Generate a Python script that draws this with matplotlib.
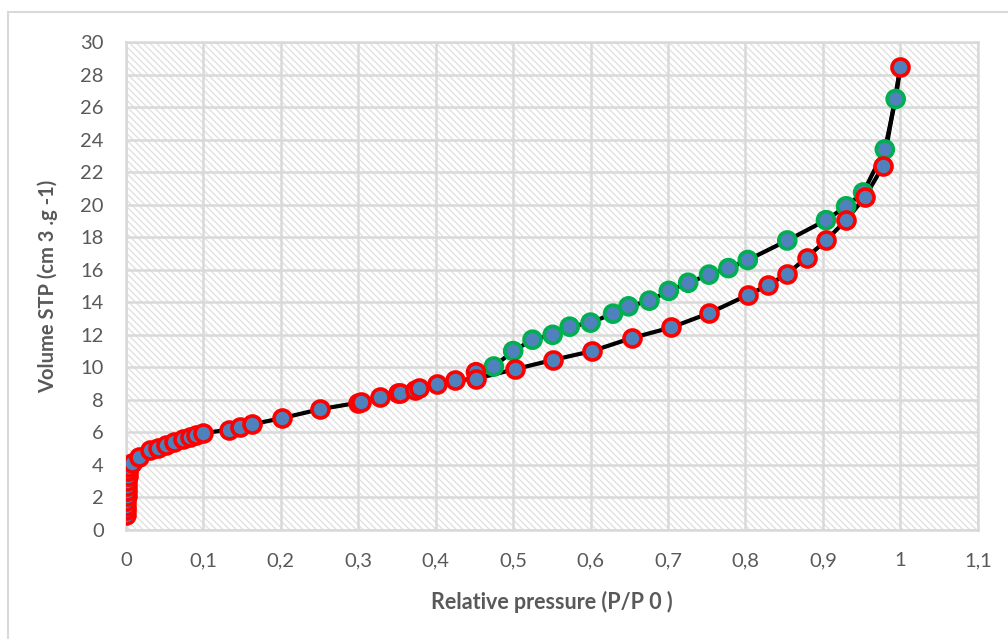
import matplotlib.pyplot as plt
import matplotlib as mpl
from matplotlib.patches import Rectangle

# adsorption branch (red edged markers)
ads_p = [0.0002, 0.0003, 0.0004, 0.0006, 0.0008, 0.001, 0.0013, 0.0017, 0.0022, 0.003, 0.004,
         0.008, 0.017, 0.031, 0.041, 0.052, 0.062, 0.073, 0.083, 0.091, 0.100,
         0.133, 0.147, 0.163, 0.201, 0.250, 0.299, 0.303, 0.328, 0.351, 0.354,
         0.373, 0.379, 0.402, 0.425, 0.452, 0.502, 0.551, 0.602, 0.653, 0.704,
         0.753, 0.803, 0.829, 0.854, 0.879, 0.904, 0.930, 0.954, 0.978, 1.0]
ads_v = [0.9, 1.2, 1.5, 1.8, 2.1, 2.4, 2.7, 3.0, 3.3, 3.6, 3.85,
         4.1, 4.5, 4.9, 5.07, 5.25, 5.42, 5.57, 5.7, 5.85, 5.95,
         6.17, 6.32, 6.5, 6.87, 7.42, 7.82, 7.87, 8.2, 8.4, 8.45,
         8.62, 8.75, 8.95, 9.2, 9.3, 9.88, 10.45, 11.0, 11.8, 12.45,
         13.33, 14.45, 15.05, 15.75, 16.75, 17.8, 19.05, 20.45, 22.4, 28.45]

# desorption branch (green edged markers)
des_p = [1.0, 0.994, 0.980, 0.952, 0.930, 0.904, 0.854, 0.803, 0.778, 0.753,
         0.726, 0.701, 0.676, 0.649, 0.629, 0.600, 0.573, 0.551, 0.525, 0.500,
         0.475, 0.452]
des_v = [28.45, 26.5, 23.4, 20.75, 19.9, 19.05, 17.8, 16.6, 16.1, 15.7,
         15.2, 14.7, 14.1, 13.75, 13.3, 12.75, 12.5, 12.0, 11.7, 11.0,
         10.05, 9.7]

xticks = [0, 0.1, 0.2, 0.3, 0.4, 0.5, 0.6, 0.7, 0.8, 0.9, 1.0, 1.1]
xtick_labels = ["0", "0,1", "0,2", "0,3", "0,4", "0,5", "0,6", "0,7", "0,8", "0,9", "1", "1,1"]
yticks = list(range(0, 31, 2))

plt.rcParams['font.family'] = ['Lato', 'DejaVu Sans']
mpl.rcParams['hatch.linewidth'] = 1.0

grey = '#595959'
fill = '#4F81BD'
light = '#D9D9D9'

fig = plt.figure(figsize=(10.08, 6.39), dpi=100)
ax = fig.add_axes([0.125, 0.1706, 0.845, 0.7636])

# chart border (only left and top visible)
fig.patches.append(Rectangle((8 / 1008, -0.1), 1.2, 1 - 12 / 639 + 0.1,
                             transform=fig.transFigure, fill=False,
                             edgecolor=light, linewidth=1.5))

ax.add_patch(Rectangle((0, 0), 1.1, 30, facecolor='white', hatch='\\' * 5,
                       edgecolor='#E2E2E2', linewidth=0, zorder=0))

ax.set_axisbelow(True)
ax.grid(True, color=light, linewidth=1.8, zorder=1)

ax.plot(des_p, des_v, color='black', linewidth=3.0, zorder=3)
ax.plot(ads_p, ads_v, color='black', linewidth=3.0, zorder=3)

des_edges = ['#00B050'] * (len(des_p) - 1) + ['#FF0000']
ax.scatter(des_p[1:], des_v[1:], s=150, facecolor=fill, edgecolors=des_edges[1:],
           linewidths=2.6, zorder=4)
ax.scatter(ads_p, ads_v, s=150, facecolor=fill, edgecolors='#FF0000',
           linewidths=2.6, zorder=5)

ax.set_xlim(0, 1.1)
ax.set_ylim(0, 30)
ax.set_xticks(xticks)
ax.set_xticklabels(xtick_labels)
ax.set_yticks(yticks)
ax.tick_params(length=0, labelsize=14.5, colors=grey)
ax.tick_params(axis='x', pad=16)
ax.tick_params(axis='y', pad=16)
for s in ax.spines.values():
    s.set_color(light)
    s.set_linewidth(1.8)

ax.set_xlabel("Relative pressure (P/P 0 )", fontsize=15.5, fontweight='bold', color=grey, labelpad=16)
ax.set_ylabel("Volume STP (cm 3 .g -1)", fontsize=14.5, fontweight='bold', color=grey, labelpad=16)

fig.savefig("out.png", dpi=100)
